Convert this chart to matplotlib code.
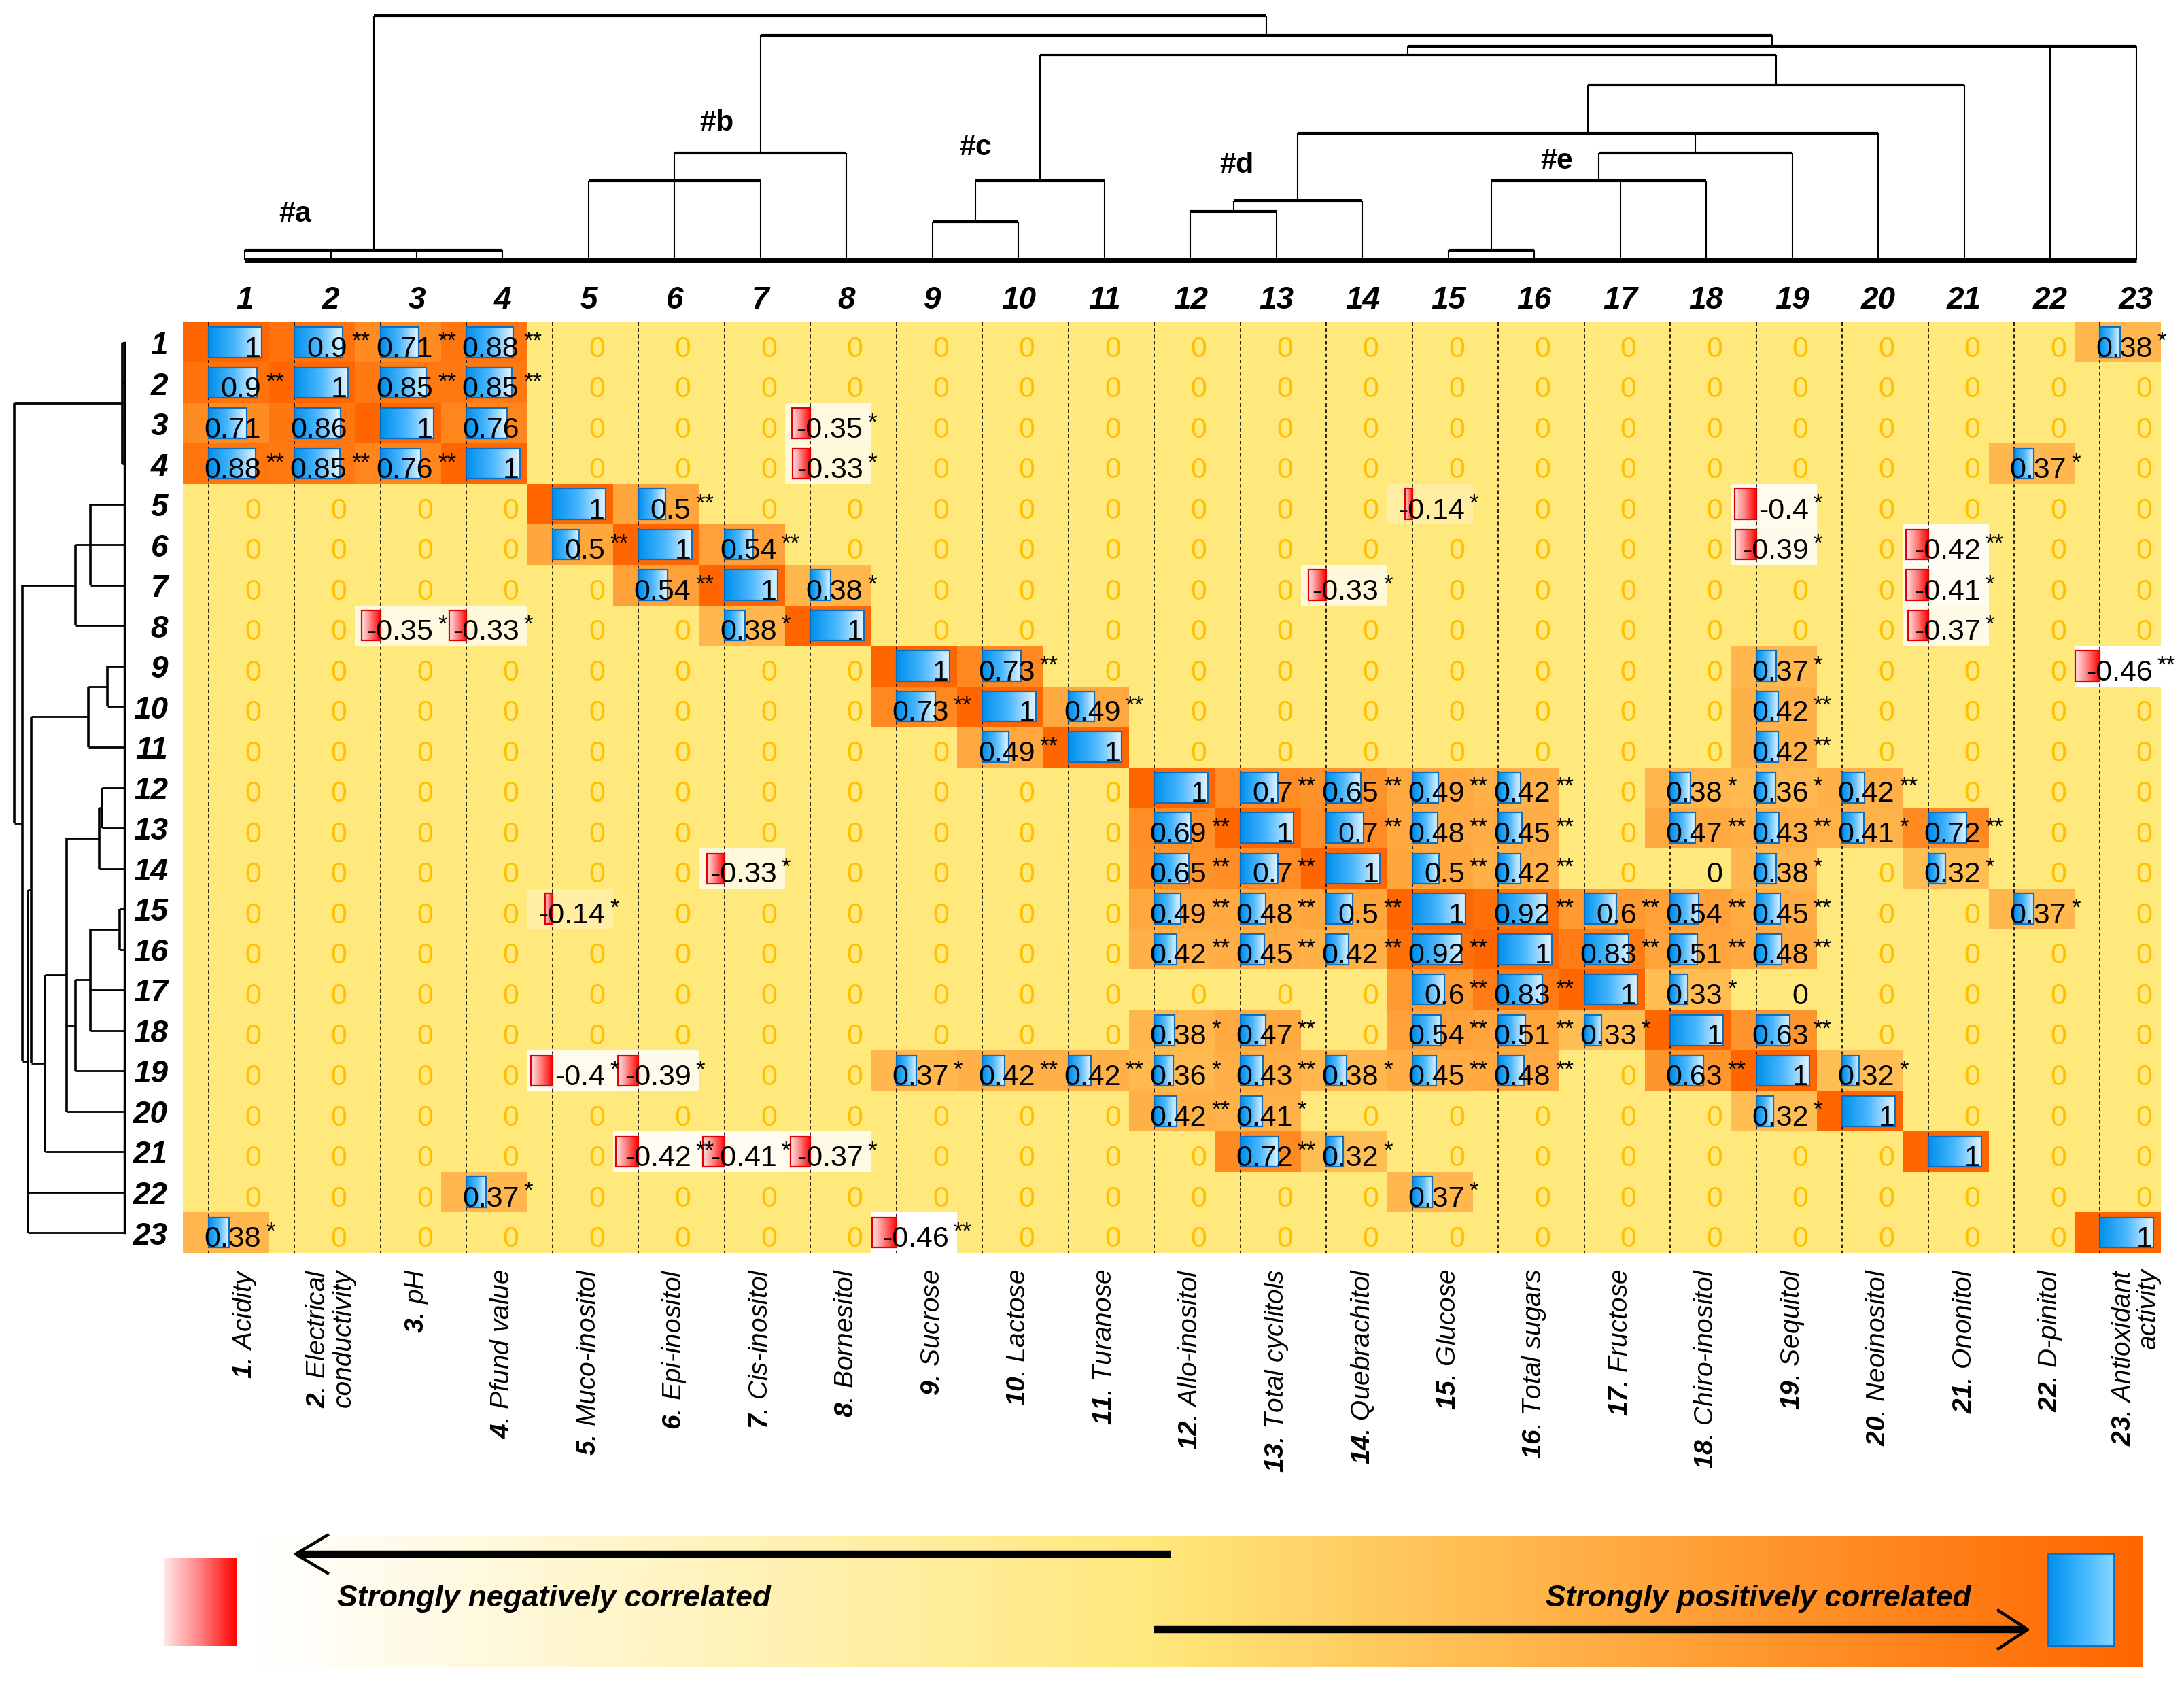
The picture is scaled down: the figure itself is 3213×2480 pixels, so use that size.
import numpy as np
import matplotlib
matplotlib.use("Agg")
import matplotlib.pyplot as plt
import matplotlib.transforms as mtransforms
from matplotlib import font_manager
from matplotlib.colors import LinearSegmentedColormap
from matplotlib.patches import Rectangle
from matplotlib.collections import LineCollection

# ---------------- data ----------------
variable_names = ["Acidity", "Electrical\nconductivity", "pH", "Pfund value",
                  "Muco-inositol", "Epi-inositol", "Cis-inositol", "Bornesitol",
                  "Sucrose", "Lactose", "Turanose", "Allo-inositol",
                  "Total cyclitols", "Quebrachitol", "Glucose", "Total sugars",
                  "Fructose", "Chiro-inositol", "Sequitol", "Neoinositol",
                  "Ononitol", "D-pinitol", "Antioxidant\nactivity"]

# correlation table, '.' = not significant (shown as a yellow 0); * p<0.05, ** p<0.01
corr_rows = [
    "1 0.9** 0.71** 0.88** . | . . . . . | . . . . . | . . . . . | . . 0.38*",
    "0.9** 1 0.85** 0.85** . | . . . . . | . . . . . | . . . . . | . . .",
    "0.71 0.86 1 0.76 . | . . -0.35* . . | . . . . . | . . . . . | . . .",
    "0.88** 0.85** 0.76** 1 . | . . -0.33* . . | . . . . . | . . . . . | . 0.37* .",
    ". . . . 1 | 0.5** . . . . | . . . . -0.14* | . . . -0.4* . | . . .",
    ". . . . 0.5** | 1 0.54** . . . | . . . . . | . . . -0.39* . | -0.42** . .",
    ". . . . . | 0.54** 1 0.38* . . | . . . -0.33* . | . . . . . | -0.41* . .",
    ". . -0.35* -0.33* . | . 0.38* 1 . . | . . . . . | . . . . . | -0.37* . .",
    ". . . . . | . . . 1 0.73** | . . . . . | . . . 0.37* . | . . -0.46**",
    ". . . . . | . . . 0.73** 1 | 0.49** . . . . | . . . 0.42** . | . . .",
    ". . . . . | . . . . 0.49** | 1 . . . . | . . . 0.42** . | . . .",
    ". . . . . | . . . . . | . 1 0.7** 0.65** 0.49** | 0.42** . 0.38* 0.36* 0.42** | . . .",
    ". . . . . | . . . . . | . 0.69** 1 0.7** 0.48** | 0.45** . 0.47** 0.43** 0.41* | 0.72** . .",
    ". . . . . | . -0.33* . . . | . 0.65** 0.7** 1 0.5** | 0.42** . 0 0.38* . | 0.32* . .",
    ". . . . -0.14* | . . . . . | . 0.49** 0.48** 0.5** 1 | 0.92** 0.6** 0.54** 0.45** . | . 0.37* .",
    ". . . . . | . . . . . | . 0.42** 0.45** 0.42** 0.92** | 1 0.83** 0.51** 0.48** . | . . .",
    ". . . . . | . . . . . | . . . . 0.6** | 0.83** 1 0.33* 0 . | . . .",
    ". . . . . | . . . . . | . 0.38* 0.47** . 0.54** | 0.51** 0.33* 1 0.63** . | . . .",
    ". . . . -0.4* | -0.39* . . 0.37* 0.42** | 0.42** 0.36* 0.43** 0.38* 0.45** | 0.48** . 0.63** 1 0.32* | . . .",
    ". . . . . | . . . . . | . 0.42** 0.41* . . | . . . 0.32* 1 | . . .",
    ". . . . . | -0.42** -0.41* -0.37* . . | . . 0.72** 0.32* . | . . . . . | 1 . .",
    ". . . 0.37* . | . . . . . | . . . . 0.37* | . . . . . | . . .",
    "0.38* . . . . | . . . -0.46** . | . . . . . | . . . . . | . . 1",
]

# hierarchical clustering tree (same topology for rows and columns)
tree = ('root', [('a', [1, 2, 3, 4]),
                 ('X1', [('b', [('b1', [5, 6, 7]), 8]),
                         ('X2', [('X3', [('c', [('c1', [9, 10]), 11]),
                                         ('X4', [('X5', [('d', [('d1', [12, 13]), 14]),
                                                         ('X6', [('e', [('e1', [15, 16]), 17, 18]), 19]),
                                                         20]),
                                                 21])]),
                                 22, 23])])])
top_heights = {'root': 1080, 'a': 45, 'X1': 993, 'b': 475, 'b1': 350, 'X2': 945,
               'X3': 905, 'c': 350, 'c1': 172, 'X4': 775, 'X5': 560, 'd': 263,
               'd1': 215, 'X6': 475, 'e': 350, 'e1': 45}
left_heights = {'root': 487, 'a': 10, 'X1': 450, 'b': 215, 'b1': 150, 'X2': 425,
                'X3': 410, 'c': 160, 'c1': 75, 'X4': 350, 'X5': 255, 'd': 110,
                'd1': 100, 'X6': 215, 'e': 150, 'e1': 20}
cluster_tags = ['#a', '#b', '#c', '#d', '#e']
legend_texts = ["Strongly negatively correlated", "Strongly positively correlated"]

# ---------------- fonts ----------------
plt.rcParams['font.family'] = ['Liberation Sans', 'DejaVu Sans']
plt.rcParams['mathtext.fontset'] = 'custom'
plt.rcParams['mathtext.rm'] = 'Liberation Sans'
plt.rcParams['mathtext.it'] = 'Liberation Sans:italic'
plt.rcParams['mathtext.bf'] = 'Liberation Sans:italic:bold'

installed = {f.name for f in font_manager.fontManager.ttflist}
if 'Liberation Sans Narrow' in installed:
    cell_font, cell_fs = 'Liberation Sans Narrow', 35
else:
    cell_font, cell_fs = 'Liberation Sans', 31
star_fs = 25

# ---------------- parse ----------------
N = len(variable_names)
values = np.zeros((N, N))
labels = [[''] * N for _ in range(N)]
stars = [[''] * N for _ in range(N)]
signif = np.zeros((N, N), dtype=bool)
for i, row in enumerate(corr_rows):
    toks = row.replace('|', ' ').split()
    if len(toks) != N:
        raise ValueError(f"row {i+1} has {len(toks)} entries")
    for j, tok in enumerate(toks):
        if tok == '.':
            labels[i][j] = '0'
        else:
            s = tok.rstrip('*')
            stars[i][j] = tok[len(s):]
            values[i, j] = float(s)
            labels[i][j] = s
            signif[i, j] = True

# ---------------- figure ----------------
W, H, DPI = 3213, 2480, 100
fig = plt.figure(figsize=(W / DPI, H / DPI), dpi=DPI)
fig.patch.set_facecolor('white')


def px_axes(x0, y0, x1, y1):
    a = fig.add_axes([x0 / W, 1 - y1 / H, (x1 - x0) / W, (y1 - y0) / H])
    a.set_axis_off()
    return a


HX0, HX1, HY0, HY1 = 269, 3178, 474, 1843
ax = px_axes(HX0, HY0, HX1, HY1)

vmin, vmax = values.min(), values.max()
zero_pos = (0 - vmin) / (vmax - vmin)
bg_cmap = LinearSegmentedColormap.from_list(
    'bg', [(0, '#FFFFFF'), (zero_pos, '#FFE87C'), (1, '#FF6600')])
ax.imshow(values, cmap=bg_cmap, vmin=vmin, vmax=vmax, extent=[0, N, N, 0],
          aspect='auto', interpolation='nearest', zorder=0)

AXIS_FRAC = 0.30
BAR_SCALE = 0.62
grad = np.linspace(0, 1, 128).reshape(1, -1)
blue_cmap = LinearSegmentedColormap.from_list('blue', ['#0090EC', '#4CB8FF', '#E6F6FF'])
red_cmap = LinearSegmentedColormap.from_list('red', ['#FFE4E4', '#FF7A7A', '#FF0000'])

ax.vlines(np.arange(N) + AXIS_FRAC, 0, N, colors='black', linestyles=(0, (3, 2.5)),
          lw=1.2, zorder=1.5)

for i in range(N):
    for j in range(N):
        v = values[i, j]
        if v != 0:
            y0, y1 = i + 0.12, i + 0.87
            if v > 0:
                x0 = j + AXIS_FRAC
                x1 = x0 + v * BAR_SCALE
                cm, ec = blue_cmap, '#0A6FC2'
            else:
                x1 = j + AXIS_FRAC
                x0 = x1 + v * BAR_SCALE
                cm, ec = red_cmap, '#E00000'
            ax.imshow(grad, cmap=cm, extent=[x0, x1, y1, y0], aspect='auto',
                      interpolation='bilinear', zorder=2)
            ax.add_patch(Rectangle((x0, y0), x1 - x0, y1 - y0, fill=False,
                                   ec=ec, lw=1.6, zorder=2.5))
        ax.text(j + 0.91, i + 0.85, labels[i][j], ha='right', va='baseline',
                fontsize=cell_fs, family=[cell_font, 'DejaVu Sans'],
                color='black' if signif[i, j] else '#FFC000', zorder=4)
        if stars[i][j]:
            ax.text(j + 0.965, i + 0.64, stars[i][j], ha='left', va='baseline',
                    fontsize=star_fs, color='black', zorder=4)

ax.set_xlim(0, N)
ax.set_ylim(N, 0)

# bottom variable labels
trans = mtransforms.blended_transform_factory(ax.transData, ax.transAxes)
for k, name in enumerate(variable_names, start=1):
    lines = name.split('\n')
    txt = r"$\mathbf{%d}$. " % k + lines[0]
    if len(lines) > 1:
        txt += '\n' + '\n'.join(lines[1:])
    ax.text(k - 1 + 0.72, -0.017, txt, transform=trans, rotation=90,
            ha='center', va='top', multialignment='right', fontsize=28,
            fontstyle='italic', linespacing=1.05)


# ---------------- dendrograms ----------------
def layout(node, heights, leafpos, spans, links):
    if isinstance(node, int):
        return leafpos(node), 0.0
    name, children = node
    h = heights[name]
    res = [layout(c, heights, leafpos, spans, links) for c in children]
    xs = [r[0] for r in res]
    for cx, ch in res:
        links.append((cx, ch, h))
    spans.append((min(xs), max(xs), h))
    return 0.5 * (min(xs) + max(xs)), h


# top
axt = px_axes(HX0, 0, HX1, HY0)
TOP_UNIT = 3.0
BASE_PX = 383
axt.set_xlim(0, N)
axt.set_ylim((BASE_PX - HY0) * TOP_UNIT, BASE_PX * TOP_UNIT)
top_leaf = lambda k: k - 1 + 0.72
spans, links = [], []
layout(tree, top_heights, top_leaf, spans, links)
axt.add_collection(LineCollection([[(a, h), (b, h)] for a, b, h in spans],
                                  colors='black', lw=3.0))
axt.add_collection(LineCollection([[(x, h0), (x, h1)] for x, h0, h1 in links],
                                  colors='black', lw=1.5))
axt.plot([top_leaf(1), top_leaf(N)], [0, 0], color='black', lw=5, solid_capstyle='butt')
for k in range(1, N + 1):
    axt.text(top_leaf(k), (BASE_PX - 454) * TOP_UNIT, str(k), ha='center',
             va='baseline', fontsize=33, fontweight='bold', fontstyle='italic')
tag_pos = [(1.31, 204), (6.21, 606), (9.22, 498), (12.26, 420), (15.98, 438)]
for tag, (tx, ty) in zip(cluster_tags, tag_pos):
    axt.text(tx, ty, tag, ha='center', va='center', fontsize=31, fontweight='bold')

# left
axl = px_axes(0, HY0, HX0, HY1)
LEAF_PX = 183
axl.set_xlim(LEAF_PX * 3, (LEAF_PX - HX0) * 3)
axl.set_ylim(N, 0)
left_leaf = lambda k: k - 0.5
spans, links = [], []
layout(tree, left_heights, left_leaf, spans, links)
axl.add_collection(LineCollection([[(h, a), (h, b)] for a, b, h in spans],
                                  colors='black', lw=2.6))
axl.add_collection(LineCollection([[(h0, y), (h1, y)] for y, h0, h1 in links],
                                  colors='black', lw=2.0))
axl.plot([0, 0], [left_leaf(1), left_leaf(N)], color='black', lw=2.5)
for k in range(1, N + 1):
    axl.text((LEAF_PX - 247) * 3, k - 0.21, str(k), ha='right', va='baseline',
             fontsize=33, fontweight='bold', fontstyle='italic')

# ---------------- legend bar ----------------
axg = px_axes(0, 2200, W, H)
axg.set_xlim(0, W)
axg.set_ylim(H, 2200)
leg_cmap = LinearSegmentedColormap.from_list(
    'leg', [(0, '#FFFFFF'), (0.04, '#FFFFFF'), (0.5, '#FFE87C'), (1, '#FF6600')])
axg.imshow(grad, cmap=leg_cmap, extent=[242, 3151, 2452, 2259], aspect='auto',
           interpolation='bilinear', zorder=0)
axg.imshow(grad, cmap=LinearSegmentedColormap.from_list('rs', ['#FFE6E6', '#FF8080', '#FF0000']),
           extent=[242, 349, 2421, 2292], aspect='auto', interpolation='bilinear', zorder=1)
axg.imshow(grad, cmap=LinearSegmentedColormap.from_list('bs', ['#0090EC', '#3DB5FF', '#8AD6FF']),
           extent=[3013, 3110, 2421, 2285], aspect='auto', interpolation='bilinear', zorder=1)
axg.add_patch(Rectangle((3013, 2285), 97, 136, fill=False, ec='#0A6FC2', lw=2, zorder=2))
# arrows
axg.plot([1722, 440], [2286, 2286], color='black', lw=7.5, solid_capstyle='butt', zorder=3)
axg.plot([482, 435, 482], [2258, 2286, 2314], color='black', lw=3.2, zorder=3)
axg.plot([1697, 2978], [2397, 2397], color='black', lw=7.5, solid_capstyle='butt', zorder=3)
axg.plot([2940, 2983, 2940], [2369, 2397, 2425], color='black', lw=3.2, zorder=3)
axg.text(496, 2352, legend_texts[0], ha='left', va='center', fontsize=32,
         fontweight='bold', fontstyle='italic', zorder=3)
axg.text(2900, 2352, legend_texts[1], ha='right', va='center', fontsize=32,
         fontweight='bold', fontstyle='italic', zorder=3)

fig.savefig('out.png', dpi=DPI, facecolor='white')
